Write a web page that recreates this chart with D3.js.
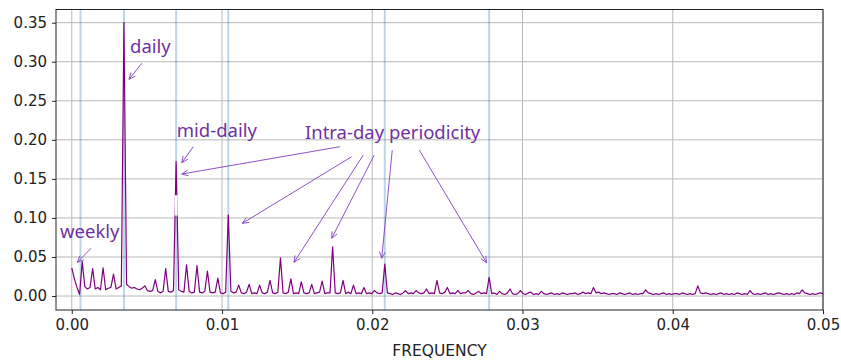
<!DOCTYPE html>
<html>
<head>
<meta charset="utf-8">
<script src="https://cdn.jsdelivr.net/npm/d3@7"></script>
<style>
  body { margin: 0; background: #fff; }
  svg { display: block; }
</style>
</head>
<body>
<div id="chart"></div>
<script>
"use strict"

// spectrum on a regular frequency grid (step 1/5760)
const freqStep = 1 / 5760
const power = [
  .036,.022,.011,.002,.044,.012,.009,.011,.035,.009,.011,.008,.036,.008,.010,.011,.028,.009,.011,.013,
  .350,.015,.012,.010,.011,.009,.008,.010,.013,.007,.006,.007,.021,.006,.004,.006,.035,.006,.005,.007,
  .172,.008,.006,.005,.040,.006,.004,.005,.039,.005,.004,.006,.032,.005,.004,.005,.023,.004,.003,.005,
  .104,.006,.004,.005,.014,.004,.003,.005,.015,.003,.004,.003,.014,.004,.003,.005,.020,.004,.003,.005,
  .049,.004,.003,.005,.022,.003,.004,.003,.018,.004,.003,.004,.015,.003,.004,.005,.019,.003,.004,.004,
  .063,.004,.003,.004,.020,.003,.005,.003,.014,.003,.004,.003,.011,.003,.004,.003,.007,.004,.003,.004,
  .041,.004,.003,.002,.004,.003,.002,.004,.007,.003,.004,.003,.007,.004,.003,.004,.009,.003,.004,.003,
  .020,.004,.003,.005,.011,.003,.004,.003,.007,.003,.004,.004,.007,.003,.002,.004,.006,.003,.004,.003,
  .024,.003,.004,.002,.006,.003,.002,.004,.009,.003,.002,.003,.007,.003,.002,.004,.005,.002,.003,.002,
  .006,.003,.002,.003,.004,.002,.003,.002,.004,.003,.002,.003,.003,.004,.002,.003,.005,.003,.004,.003,
  .011,.004,.005,.003,.004,.003,.002,.003,.003,.002,.004,.003,.002,.003,.004,.002,.003,.002,.003,.003,
  .008,.004,.003,.002,.003,.002,.003,.004,.002,.003,.002,.003,.003,.002,.004,.003,.002,.003,.002,.003,
  .013,.004,.003,.004,.003,.002,.003,.002,.003,.004,.002,.003,.002,.003,.002,.004,.003,.002,.003,.002,
  .007,.003,.002,.003,.002,.003,.004,.002,.003,.002,.003,.004,.003,.002,.003,.002,.003,.002,.004,.003,
  .008,.004,.003,.002,.003,.002,.003,.004,.003
]

// highlighted frequencies (weekly, daily and its harmonics)
const markedFreqs = [0.00058, 1 / 288, 1 / 144, 3 / 288, 6 / 288, 8 / 288]

// the mid-daily spike shows a break in the original
const midDailyFreq = 1 / 144
const midDailyGap = [0.103, 0.129]

const xTicks = [0, 0.01, 0.02, 0.03, 0.04, 0.05]
const yTicks = [0, 0.05, 0.10, 0.15, 0.20, 0.25, 0.30, 0.35]

const labels = [
  { text: "daily", f: 0.00388, v: 0.3108 },
  { text: "mid-daily", f: 0.00699, v: 0.2040 },
  { text: "weekly", f: -0.00078, v: 0.0739 },
  { text: "Intra-day periodicity", f: 0.01552, v: 0.2006 }
]

const arrows = [
  { from: [0.00466, 0.2980], to: [0.00381, 0.2775] },
  { from: [0.00809, 0.1912], to: [0.00732, 0.1707] },
  { from: [0.00128, 0.0611], to: [0.00037, 0.0431] },
  { from: [0.01785, 0.1912], to: [0.00732, 0.1562] },
  { from: [0.01863, 0.1784], to: [0.01135, 0.0931] },
  { from: [0.01940, 0.1805], to: [0.01479, 0.0431] },
  { from: [0.02013, 0.1805], to: [0.01730, 0.0739] },
  { from: [0.02133, 0.1869], to: [0.02063, 0.0483] },
  { from: [0.02313, 0.1869], to: [0.02761, 0.0426] }
]

const width = 841
const height = 361
const plot = { left: 56, right: 823, top: 9.5, bottom: 310 }

const x = d3.scaleLinear().domain([-0.00105, 0.05]).range([plot.left, plot.right])
const y = d3.scaleLinear().domain([-0.0179, 0.3669]).range([plot.bottom, plot.top])

const svg = d3.select("#chart").append("svg")
  .attr("width", width)
  .attr("height", height)

// grid
svg.append("g")
  .selectAll("line")
  .data(xTicks)
  .enter()
    .append("line")
    .attr("x1", (d) => x(d))
    .attr("x2", (d) => x(d))
    .attr("y1", plot.top)
    .attr("y2", plot.bottom)
    .attr("stroke", "#b8b8b8")
    .attr("stroke-width", 1)

svg.append("g")
  .selectAll("line")
  .data(yTicks)
  .enter()
    .append("line")
    .attr("x1", plot.left)
    .attr("x2", plot.right)
    .attr("y1", (d) => y(d))
    .attr("y2", (d) => y(d))
    .attr("stroke", "#b8b8b8")
    .attr("stroke-width", 1)

// marked frequencies
svg.append("g")
  .selectAll("line")
  .data(markedFreqs)
  .enter()
    .append("line")
    .attr("x1", (d) => x(d))
    .attr("x2", (d) => x(d))
    .attr("y1", plot.top)
    .attr("y2", plot.bottom)
    .attr("stroke", "#1f77b4")
    .attr("stroke-opacity", 0.3)
    .attr("stroke-width", 2)

// spectrum
const line = d3.line()
  .x((d, i) => x(i * freqStep))
  .y((d) => y(d))

svg.append("path")
  .datum(power)
  .attr("d", line)
  .attr("fill", "none")
  .attr("stroke", "#800080")
  .attr("stroke-width", 1.2)
  .attr("stroke-linejoin", "round")

svg.append("line")
  .attr("x1", x(midDailyFreq))
  .attr("x2", x(midDailyFreq))
  .attr("y1", y(midDailyGap[0]))
  .attr("y2", y(midDailyGap[1]))
  .attr("stroke", "#fff")
  .attr("stroke-width", 3)

// frame
svg.append("rect")
  .attr("x", plot.left)
  .attr("y", plot.top)
  .attr("width", plot.right - plot.left)
  .attr("height", plot.bottom - plot.top)
  .attr("fill", "none")
  .attr("stroke", "#222")
  .attr("stroke-width", 1)

// axes
const xAxis = d3.axisBottom(x).tickValues(xTicks).tickFormat(d3.format(".2f")).tickSizeOuter(0).tickSize(4).tickPadding(5)
const yAxis = d3.axisLeft(y).tickValues(yTicks).tickFormat(d3.format(".2f")).tickSizeOuter(0).tickSize(4).tickPadding(5)

svg.append("g")
  .attr("transform", `translate(0,${plot.bottom})`)
  .call(xAxis)
  .call((g) => g.select(".domain").remove())
  .call((g) => g.selectAll("text").attr("font-family", "DejaVu Sans").attr("font-size", "15px").attr("fill", "#222"))
  .call((g) => g.selectAll("line").attr("stroke", "#222"))

svg.append("g")
  .attr("transform", `translate(${plot.left},0)`)
  .call(yAxis)
  .call((g) => g.select(".domain").remove())
  .call((g) => g.selectAll("text").attr("font-family", "DejaVu Sans").attr("font-size", "15px").attr("fill", "#222"))
  .call((g) => g.selectAll("line").attr("stroke", "#222"))

svg.append("text")
  .attr("x", (plot.left + plot.right) / 2)
  .attr("y", 355.5)
  .attr("text-anchor", "middle")
  .attr("font-family", "DejaVu Sans")
  .attr("font-size", "15.5px")
  .attr("fill", "#222")
  .text("FREQUENCY")

// annotations
function arrowPath(x1, y1, x2, y2) {
  const a = Math.atan2(y2 - y1, x2 - x1)
  const len = 7
  const spread = 0.42
  const p1 = [x2 - len * Math.cos(a - spread), y2 - len * Math.sin(a - spread)]
  const p2 = [x2 - len * Math.cos(a + spread), y2 - len * Math.sin(a + spread)]
  return `M${x1},${y1}L${x2},${y2}M${p1[0]},${p1[1]}L${x2},${y2}L${p2[0]},${p2[1]}`
}

svg.append("g")
  .selectAll("path")
  .data(arrows)
  .enter()
    .append("path")
    .attr("d", (d) => arrowPath(x(d.from[0]), y(d.from[1]), x(d.to[0]), y(d.to[1])))
    .attr("fill", "none")
    .attr("stroke", "#8040c0")
    .attr("stroke-width", 0.9)

svg.append("g")
  .selectAll("text")
  .data(labels)
  .enter()
    .append("text")
    .attr("x", (d) => x(d.f))
    .attr("y", (d) => y(d.v))
    .attr("font-family", "Noto Sans")
    .attr("font-size", "18.5px")
    .attr("fill", "#7030a0")
    .text((d) => d.text)
</script>
</body>
</html>
